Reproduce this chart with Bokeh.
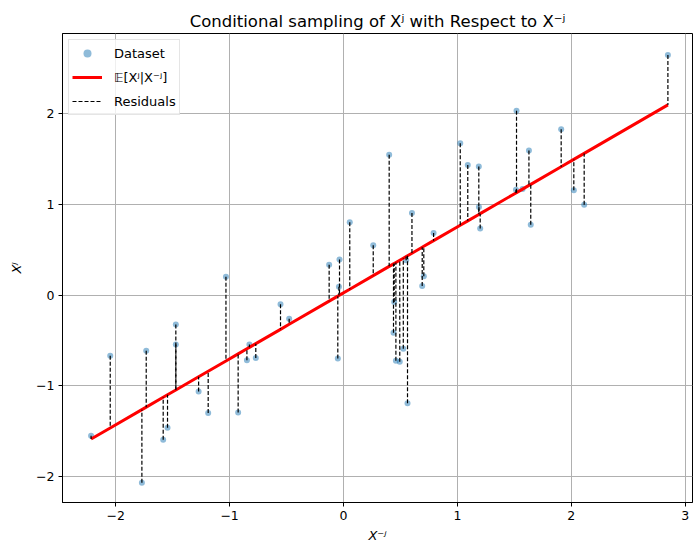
import numpy as np
from bokeh.plotting import figure
from bokeh.models import Range1d, FixedTicker, Legend, LegendItem, ColumnDataSource
from bokeh.embed import file_html
from bokeh.resources import INLINE

# Data
x_minus_j = [-2.216, -2.048, -1.770, -1.732, -1.583, -1.545, -1.472, -1.472, -1.272, -1.188,
             -1.032, -0.925, -0.848, -0.826, -0.770, -0.553, -0.477, -0.126, -0.050, -0.040,
             -0.035, 0.055, 0.261, 0.401, 0.439, 0.445, 0.460, 0.494, 0.525, 0.550,
             0.562, 0.601, 0.691, 0.705, 0.791, 1.025, 1.091, 1.188, 1.189, 1.200,
             1.514, 1.519, 1.572, 1.628, 1.644, 1.911, 2.022, 2.113, 2.848]
x_j = [-1.552, -0.668, -2.070, -0.613, -1.595, -1.463, -0.324, -0.544, -1.064, -1.302,
       0.203, -1.294, -0.720, -0.544, -0.694, -0.101, -0.262, 0.335, -0.700, 0.093,
       0.393, 0.804, 0.551, 1.547, -0.415, -0.075, -0.723, -0.734, -0.591, 0.385,
       -1.192, 0.907, 0.101, 0.207, 0.684, 1.676, 1.434, 1.420, 0.972, 0.734,
       1.163, 2.035, 1.170, 1.596, 0.775, 1.830, 1.156, 0.998, 2.650]
slope = 0.728
intercept = 0.025
x_ticks = [-2, -1, 0, 1, 2, 3]
y_ticks = [-2, -1, 0, 1, 2]

xs = np.array(x_minus_j)
ys = np.array(x_j)
yhat = intercept + slope * xs
order = np.argsort(xs)
line_x = xs[order]
line_y = yhat[order]

src = ColumnDataSource(dict(x=xs, y=ys, yhat=yhat))

p = figure(width=694, height=545, output_backend="svg", toolbar_location=None,
           x_range=Range1d(-2.467, 3.064), y_range=Range1d(-2.288, 2.886),
           title="Conditional sampling of X\u02b2 with Respect to X\u207b\u02b2",
           min_border_left=62, min_border_right=2, min_border_top=33, min_border_bottom=42)

p.title.align = "center"
p.title.text_font = "DejaVu Sans"
p.title.text_font_size = "16.5px"
p.title.text_font_style = "normal"
p.title.text_color = "black"
p.title.standoff = 5

p.outline_line_color = "black"
p.outline_line_width = 1
p.background_fill_color = "white"
p.border_fill_color = "white"

for ax in (p.xaxis[0], p.yaxis[0]):
    ax.major_label_text_font = "DejaVu Sans"
    ax.major_label_text_font_size = "12.5px"
    ax.major_label_text_color = "black"
    ax.axis_label_text_font = "DejaVu Sans"
    ax.axis_label_text_font_size = "13px"
    ax.axis_label_text_font_style = "italic"
    ax.axis_label_text_color = "black"
    ax.major_tick_in = 0
    ax.major_tick_out = 4
    ax.major_tick_line_color = "black"
    ax.minor_tick_line_color = None
    ax.axis_line_color = "black"
    ax.major_label_standoff = 4

p.xaxis.axis_label_standoff = 5
p.yaxis.axis_label_standoff = 9

p.xaxis.ticker = FixedTicker(ticks=x_ticks)
p.yaxis.ticker = FixedTicker(ticks=y_ticks)
p.xaxis.major_label_overrides = {t: (str(t).replace("-", "\u2212")) for t in x_ticks}
p.yaxis.major_label_overrides = {t: (str(t).replace("-", "\u2212")) for t in y_ticks}
p.xaxis.axis_label = "X\u207b\u02b2"
p.yaxis.axis_label = "X\u02b2"

p.grid.grid_line_color = "#b0b0b0"
p.grid.grid_line_width = 1

pts = p.scatter("x", "y", source=src, size=6, fill_color="#1f77b4", fill_alpha=0.5,
                line_color=None)
ln = p.line(line_x, line_y, line_color="red", line_width=3)
res = p.segment(x0="x", y0="y", x1="x", y1="yhat", source=src, line_color="black",
                line_width=1.2, line_dash="4 2")

legend = Legend(items=[
    LegendItem(label="Dataset", renderers=[pts]),
    LegendItem(label="\U0001d53c[X\u02b2|X\u207b\u02b2]", renderers=[ln]),
    LegendItem(label="Residuals", renderers=[res]),
], location="top_left")
legend.label_text_font = "DejaVu Sans"
legend.label_text_font_size = "13px"
legend.label_text_color = "black"
legend.border_line_color = "#cccccc"
legend.border_line_width = 1
legend.background_fill_alpha = 0.8
legend.margin = 6
legend.padding = 3
legend.spacing = 4
legend.glyph_width = 30
legend.glyph_height = 20
legend.label_standoff = 12
legend.label_height = 20
p.add_layout(legend)

open("out.html", "w").write(file_html(p, INLINE))
